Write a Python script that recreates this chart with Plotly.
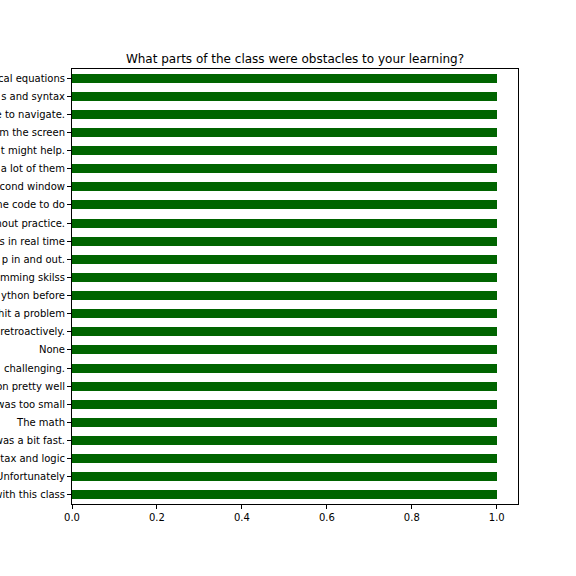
import plotly.graph_objects as go

categories = [
    "cal equations", "s and syntax", "e to navigate.", "m the screen",
    "t might help.", "a lot of them", "cond window", "he code to do",
    "hout practice.", "s in real time", "p in and out.", "mming skilss",
    "ython before", "hit a problem", "retroactively.", "None",
    "challenging.", "on pretty well", "was too small", "The math",
    "was a bit fast.", "tax and logic", "Unfortunately", "with this class",
]
values = [1] * len(categories)
x_ticks = [0.0, 0.2, 0.4, 0.6, 0.8, 1.0]
x_tick_labels = ["0.0", "0.2", "0.4", "0.6", "0.8", "1.0"]

# pandas barh plots first index at bottom
cats_bottom_up = categories[::-1]
vals_bottom_up = values[::-1]

fig = go.Figure(go.Bar(
    x=vals_bottom_up,
    y=list(range(len(cats_bottom_up))),
    orientation="h",
    width=0.5,
    marker=dict(color="#006400", line=dict(width=0)),
))

fig.update_layout(
    width=576, height=576,
    margin=dict(l=72, r=58, t=69, b=72, autoexpand=False),
    paper_bgcolor="white", plot_bgcolor="white",
    font=dict(family="DejaVu Sans", size=10, color="black"),
    title=dict(text="What parts of the class were obstacles to your learning?",
               x=0.5, xref="paper", y=1 - 59 / 576, yref="container",
               xanchor="center", yanchor="middle",
               font=dict(size=12, color="black", family="DejaVu Sans")),
    showlegend=False,
    bargap=0,
)
fig.update_xaxes(
    range=[0, 1.05], tickvals=x_ticks, ticktext=x_tick_labels,
    showgrid=False, zeroline=False, automargin=False,
    showline=True, linecolor="black", linewidth=1, mirror=True,
    ticks="outside", ticklen=4, tickwidth=1, tickcolor="black",
)
fig.update_yaxes(
    range=[-0.5, len(categories) - 0.5],
    tickvals=list(range(len(cats_bottom_up))), ticktext=cats_bottom_up,
    showgrid=False, zeroline=False, automargin=False,
    showline=True, linecolor="black", linewidth=1, mirror=True,
    ticks="outside", ticklen=4, tickwidth=1, tickcolor="black",
)

fig.write_html("out.html")
